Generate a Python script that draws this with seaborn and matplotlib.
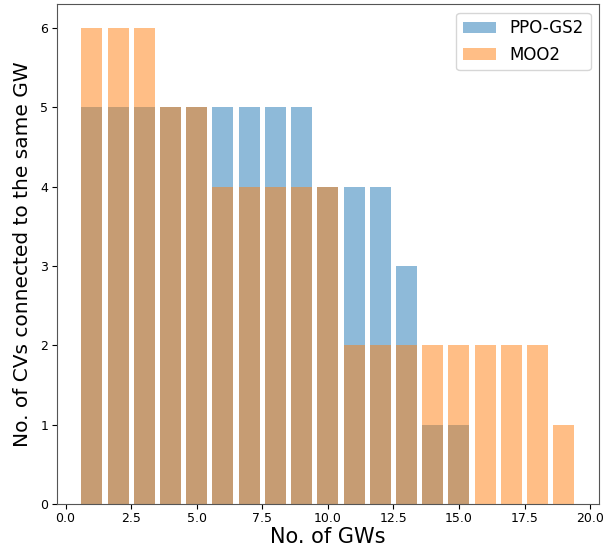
import matplotlib
matplotlib.use("Agg")
import matplotlib.pyplot as plt
import seaborn as sns
import numpy as np

gws = [1, 2, 3, 4, 5, 6, 7, 8, 9, 10, 11, 12, 13, 14, 15, 16, 17, 18, 19]
ppo_gs2 = [5, 5, 5, 5, 5, 5, 5, 5, 5, 4, 4, 4, 3, 1, 1, 0, 0, 0, 0]
moo2 = [6, 6, 6, 5, 5, 4, 4, 4, 4, 4, 2, 2, 2, 2, 2, 2, 2, 2, 1]

fig = plt.figure(figsize=(6.14, 5.48), dpi=100)
ax = fig.add_axes([0.0923, 0.0803, 0.8833, 0.9117])

sns.barplot(x=gws, y=ppo_gs2, native_scale=True, width=0.8, color="C0",
            saturation=1, alpha=0.5, errorbar=None, label="PPO-GS2", ax=ax)
sns.barplot(x=gws, y=moo2, native_scale=True, width=0.8, color="C1",
            saturation=1, alpha=0.5, errorbar=None, label="MOO2", ax=ax)

ax.set_xlim(-0.34, 20.34)
ax.set_ylim(0, 6.3)
ax.set_xticks([0, 2.5, 5, 7.5, 10, 12.5, 15, 17.5, 20])
ax.set_xticklabels(["0.0", "2.5", "5.0", "7.5", "10.0", "12.5", "15.0", "17.5", "20.0"])
ax.set_yticks([0, 1, 2, 3, 4, 5, 6])
ax.tick_params(labelsize=9, pad=2.5)
ax.set_xlabel("No. of GWs", fontsize=15, labelpad=1)
ax.set_ylabel("No. of CVs connected to the same GW", fontsize=14.5, labelpad=6)
ax.legend(loc="upper right", fontsize=12)
for s in ax.spines.values():
    s.set_color("#555555")

fig.savefig("out.png", dpi=100)
